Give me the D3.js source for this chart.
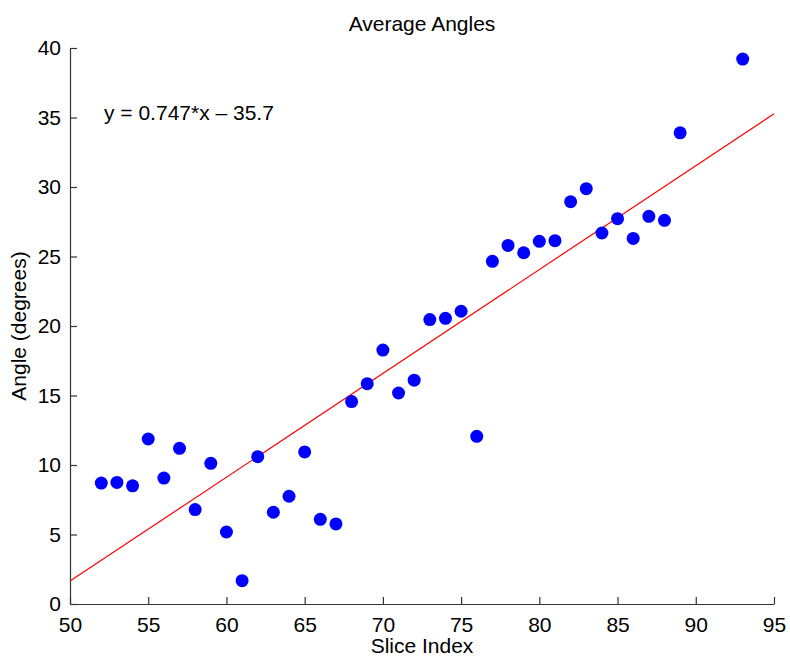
<!DOCTYPE html>
<html>
<head>
<meta charset="utf-8">
<script src="https://cdn.jsdelivr.net/npm/d3@7"></script>
<style>
  body { margin: 0; background: #fff; }
  text { font-family: "Liberation Sans", Arial, sans-serif; fill: #000; }
</style>
</head>
<body>
<div id="chart"></div>
<script>
// slice index vs. average angle
const sliceIndex = [52, 53, 54, 55, 56, 57, 58, 59, 60, 61, 62, 63, 64, 65, 66, 67, 68, 69, 70,
  71, 72, 73, 74, 75, 76, 77, 78, 79, 80, 81, 82, 83, 84, 85, 86, 87, 88, 89, 93];
const angles = [8.7, 8.75, 8.5, 11.87, 9.06, 11.2, 6.79, 10.12, 5.18, 1.68, 10.6, 6.6, 7.75, 10.94, 6.09, 5.76, 14.56, 15.85, 18.27,
  15.18, 16.1, 20.46, 20.55, 21.06, 12.06, 24.65, 25.8, 25.27, 26.09, 26.14, 28.94, 29.88, 26.69, 27.72, 26.3, 27.89, 27.6, 33.9, 39.2];
const fitSlope = 0.747;
const fitIntercept = -35.7;
const xTicks = [50, 55, 60, 65, 70, 75, 80, 85, 90, 95];
const yTicks = [0, 5, 10, 15, 20, 25, 30, 35, 40];

const width = 790, height = 658;
const margin = { top: 48, right: 16, bottom: 54, left: 70 };

const svg = d3.select("#chart").append("svg")
  .attr("width", width)
  .attr("height", height);

const x = d3.scaleLinear().domain([50, 95]).range([margin.left, width - margin.right]);
const y = d3.scaleLinear().domain([0, 40]).range([height - margin.bottom, margin.top]);

// axes, ticks pointing inward
const xAxis = svg.append("g")
  .attr("transform", `translate(0,${height - margin.bottom})`)
  .call(d3.axisBottom(x).tickValues(xTicks).tickSizeInner(-7).tickSizeOuter(0).tickPadding(13));

const yAxis = svg.append("g")
  .attr("transform", `translate(${margin.left},0)`)
  .call(d3.axisLeft(y).tickValues(yTicks).tickSizeInner(-7).tickSizeOuter(0).tickPadding(9));

[xAxis, yAxis].forEach(g => {
  g.selectAll("path, line").attr("stroke", "#333").attr("stroke-width", 1.2);
  g.selectAll("text").attr("font-size", "21px").attr("font-family", "Liberation Sans, Arial, sans-serif").attr("fill", "#000");
});

// fit line
svg.append("line")
  .attr("x1", x(50)).attr("y1", y(fitSlope * 50 + fitIntercept))
  .attr("x2", x(95)).attr("y2", y(fitSlope * 95 + fitIntercept))
  .attr("stroke", "#ff0000")
  .attr("stroke-width", 1.2);

// data points
svg.selectAll(".dot")
  .data(sliceIndex)
  .enter()
  .append("circle")
  .attr("class", "dot")
  .attr("cx", d => x(d))
  .attr("cy", (d, i) => y(angles[i]))
  .attr("r", 6.5)
  .attr("fill", "#0000ff");

// equation text
svg.append("text")
  .attr("x", 104)
  .attr("y", 120)
  .attr("font-size", "21px")
  .text(`y = ${fitSlope}*x \u2013 ${Math.abs(fitIntercept)}`);

// title & labels
svg.append("text")
  .attr("x", (x(50) + x(95)) / 2)
  .attr("y", 31)
  .attr("text-anchor", "middle")
  .attr("font-size", "21px")
  .text("Average Angles");

svg.append("text")
  .attr("x", (x(50) + x(95)) / 2)
  .attr("y", 653)
  .attr("text-anchor", "middle")
  .attr("font-size", "21px")
  .text("Slice Index");

svg.append("text")
  .attr("transform", `translate(26,${(y(0) + y(40)) / 2}) rotate(-90)`)
  .attr("text-anchor", "middle")
  .attr("font-size", "21px")
  .text("Angle (degrees)");
</script>
</body>
</html>
